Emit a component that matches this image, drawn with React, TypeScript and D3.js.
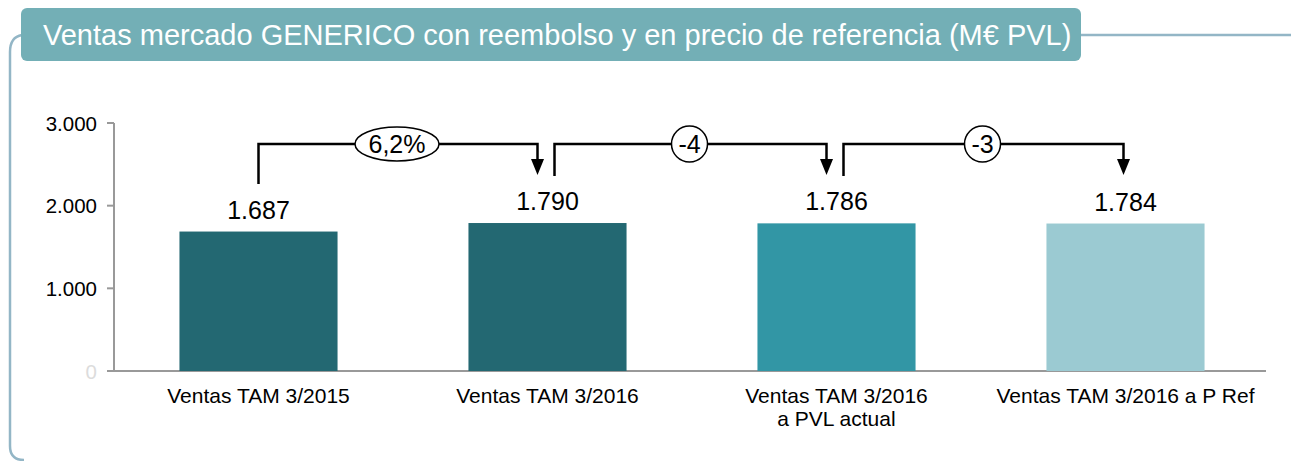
import React from 'react';
import * as d3 from 'd3';

// chart data
const categories = [
  ['Ventas TAM 3/2015'],
  ['Ventas TAM 3/2016'],
  ['Ventas TAM 3/2016', 'a PVL actual'],
  ['Ventas TAM 3/2016 a P Ref'],
];
const values = [1687, 1790, 1786, 1784];
const valueLabels = ['1.687', '1.790', '1.786', '1.784'];
const barColors = ['#236872', '#236872', '#3296a5', '#9bcad2'];
const changeLabels = ['6,2%', '-4', '-3'];
const yTicks = [0, 1000, 2000, 3000];
const yTickLabels = ['0', '1.000', '2.000', '3.000'];

const title = 'Ventas mercado GENERICO con reembolso y en precio de referencia (M€ PVL)';

const W = 1293;
const H = 461;
const font = 'Liberation Sans, Arial, sans-serif';
const frameColor = '#93b6c6';

export default function App() {
  const x = d3.scaleBand<number>()
    .domain(d3.range(values.length))
    .range([114, 1270])
    .paddingInner(0.453)
    .paddingOuter(0.2265);
  const y = d3.scaleLinear().domain([0, 3000]).range([371, 123]);

  const cx = (i: number) => (x(i) as number) + x.bandwidth() / 2;
  const lineY = 144;

  return (
    <svg width={W} height={H} style={{ position: 'absolute', left: 0, top: 0 }} fontFamily={font}>
      {/* frame */}
      <path
        d={`M 1291 35 H 1080 M 22 35 Q 10 37 10 52 V 446 Q 10 460 24 460`}
        fill="none"
        stroke={frameColor}
        strokeWidth={2.5}
      />
      <rect x={21} y={8} width={1060} height={53} rx={6} fill="#73afb6" />
      <text x={43} y={45} fontSize={29} fill="#ffffff">{title}</text>

      {/* y axis */}
      <line x1={114} x2={114} y1={123} y2={372} stroke="#999" strokeWidth={2} />
      <line x1={107} x2={1266} y1={371} y2={371} stroke="#999" strokeWidth={2} />
      {yTicks.map((t, i) => (
        <g key={t}>
          <line x1={107} x2={114} y1={y(t)} y2={y(t)} stroke="#999" strokeWidth={2} />
          <text x={97} y={y(t) + 7.5} textAnchor="end" fontSize={20.5}
            fill={t === 0 ? '#dcdcdc' : '#000'}>{yTickLabels[i]}</text>
        </g>
      ))}

      {/* bars */}
      {values.map((v, i) => (
        <g key={i}>
          <rect x={x(i)} y={y(v)} width={x.bandwidth()} height={y(0) - y(v)} fill={barColors[i]} />
          <text x={cx(i)} y={y(v) - 13} textAnchor="middle" fontSize={25} fill="#000">{valueLabels[i]}</text>
          {categories[i].map((line, j) => (
            <text key={j} x={cx(i)} y={403 + j * 23} textAnchor="middle" fontSize={21} fill="#000">{line}</text>
          ))}
        </g>
      ))}

      {/* change connectors */}
      {changeLabels.map((lbl, i) => {
        const x0 = cx(i) + (i === 0 ? 0 : 7);
        const x1 = cx(i + 1) - (i + 1 === values.length - 1 ? 2 : 10);
        const yStart = i === 0 ? 184 : 176;
        const mid = (x0 + x1) / 2 - 1;
        const isPct = lbl.includes('%');
        return (
          <g key={i}>
            <path d={`M ${x0} ${yStart} V ${lineY} H ${x1} V 160`} fill="none" stroke="#000" strokeWidth={2.5} />
            <path d={`M ${x1 - 6.5} 159 L ${x1 + 6.5} 159 L ${x1} 175 Z`} fill="#000" />
            {isPct
              ? <ellipse cx={mid} cy={lineY} rx={42} ry={17} fill="#fff" stroke="#000" strokeWidth={1.5} />
              : <circle cx={mid} cy={lineY} r={18} fill="#fff" stroke="#000" strokeWidth={1.5} />}
            <text x={mid} y={lineY + 9} textAnchor="middle" fontSize={25} fill="#000">{lbl}</text>
          </g>
        );
      })}
    </svg>
  );
}
